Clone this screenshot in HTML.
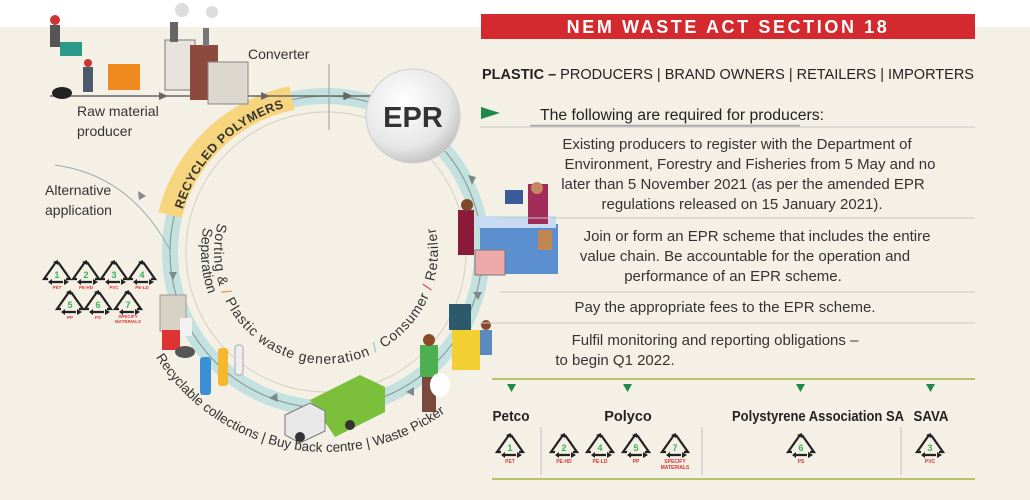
<!DOCTYPE html>
<html><head><meta charset="utf-8"><style>
html,body{margin:0;padding:0;width:1030px;height:500px;overflow:hidden;background:#fff}
svg{display:block;font-family:"Liberation Sans",sans-serif}
</style></head><body>
<svg width="1030" height="500" viewBox="0 0 1030 500" xmlns="http://www.w3.org/2000/svg">
<defs>
<radialGradient id="eg" cx="40%" cy="35%" r="70%"><stop offset="0" stop-color="#ffffff"/><stop offset="0.7" stop-color="#e6e6e6"/><stop offset="1" stop-color="#bdbdbd"/></radialGradient>
<g id="rc"><path d="M-9,6 L-13,6 L-1,-11 M1,-11 L13,6 L9,6 M6,9 L-7,9" fill="none" stroke="#222" stroke-width="2.2"/><path d="M-4,-11 L1,-13 L1,-8z M12,9 L7,6 L7,12z M-9,9 L-5,6 L-5,12z" fill="#222"/></g>
<path id="pin" d="M217.8,223 A112,112 0 1 0 431.3,213.7"/>
<path id="pin2" d="M205.3,219.6 A125,125 0 0 0 326,377"/>
<path id="pout" d="M152.8,352 A200,200 0 0 0 513.9,320.4"/>
<path id="pyel" d="M180,220 A150,150 0 0 1 295,105"/>
</defs>
<rect x="0" y="27" width="1030" height="473" fill="#f4f0e5"/>
<circle cx="326" cy="252" r="156" fill="none" stroke="#c3e2df" stroke-width="16"/>
<circle cx="326" cy="252" r="140" fill="none" stroke="#d8d4c8" stroke-width="1.2"/>
<circle cx="326" cy="252" r="156" fill="none" stroke="#8e9c9b" stroke-width="1.2"/>
<path d="M170,215 A158,158 0 0 1 292,98" fill="none" stroke="#f7d57e" stroke-width="24"/>
<text font-size="12.5" font-weight="bold" fill="#333" letter-spacing="0.5"><textPath href="#pyel" startOffset="50%" text-anchor="middle">RECYCLED POLYMERS</textPath></text>
<g fill="#7d8a8a">
<path d="M472,185 l-4,-10 l8,2z"/><path d="M478,300 l-5,-8 l9,0z"/><path d="M406,392 l8,-5 l0,9z"/><path d="M269,398 l8,-5 l1,9z"/><path d="M173,272 l-4,8 l8,0z" transform="rotate(180 173 276)"/><path d="M352,96 l-9,-4 l0,8z"/>
</g>
<line x1="50" y1="96" x2="372" y2="96" stroke="#666" stroke-width="1.5"/>
<path d="M168,96 l-9,-4 v8z M270,96 l-9,-4 v8z M353,96 l-9,-4 v8z" fill="#666"/>
<line x1="329" y1="64" x2="329" y2="130" stroke="#999" stroke-width="1"/>
<circle cx="413" cy="116" r="47" fill="url(#eg)" stroke="#cfcfcf"/>
<text x="413" y="127" font-size="29" font-weight="bold" text-anchor="middle" fill="#333">EPR</text>
<g>
<rect x="165" y="40" width="30" height="50" fill="#e8e4dd" stroke="#777"/>
<rect x="190" y="45" width="28" height="55" fill="#8b4a3c"/>
<rect x="208" y="62" width="40" height="42" fill="#ddd8cf" stroke="#888"/>
<rect x="170" y="22" width="8" height="20" fill="#666"/><rect x="203" y="28" width="6" height="18" fill="#777"/>
<circle cx="182" cy="10" r="7" fill="#ddd"/><circle cx="212" cy="12" r="6" fill="#ddd"/>
<rect x="108" y="64" width="32" height="26" fill="#f08a1e"/><rect x="60" y="42" width="22" height="14" fill="#2c9a8a"/>
<circle cx="55" cy="20" r="5" fill="#c33"/><rect x="50" y="25" width="10" height="22" fill="#555"/>
<circle cx="88" cy="63" r="4" fill="#c33"/><rect x="83" y="67" width="10" height="25" fill="#4a5a6a"/>
<ellipse cx="62" cy="93" rx="10" ry="6" fill="#222"/>
</g>
<g>
<rect x="480" y="224" width="78" height="50" fill="#5c8fd0"/><rect x="476" y="216" width="80" height="12" fill="#c9dbf2"/>
<rect x="505" y="190" width="18" height="14" fill="#3a5a9a"/>
<rect x="528" y="184" width="20" height="40" fill="#a22c5a"/><circle cx="537" cy="188" r="6" fill="#c4865f"/>
<rect x="458" y="210" width="16" height="45" fill="#8a1b3a"/><circle cx="467" cy="205" r="6" fill="#7a4a2a"/>
<rect x="475" y="250" width="30" height="25" fill="#eaa" stroke="#777"/><rect x="538" y="230" width="14" height="20" fill="#c08850"/>
<rect x="452" y="330" width="28" height="40" fill="#f2cf32"/><rect x="449" y="304" width="22" height="26" fill="#2d5a6a"/>
<rect x="480" y="330" width="12" height="25" fill="#5a8ac0"/><circle cx="486" cy="325" r="5" fill="#8a4a2a"/>
<rect x="420" y="345" width="18" height="32" fill="#4caf50"/><rect x="422" y="377" width="14" height="35" fill="#7a4a3a"/><circle cx="429" cy="340" r="6" fill="#8a4a2a"/>
<ellipse cx="440" cy="385" rx="10" ry="12" fill="#fff"/>
<path d="M310,400 l50,-25 l25,12 l0,25 l-50,25z" fill="#7bbf3a"/><path d="M285,415 l25,-12 l15,8 l0,20 l-25,12 l-15,-8z" fill="#e8e8e8" stroke="#777"/>
<circle cx="300" cy="437" r="5" fill="#333"/><circle cx="350" cy="425" r="5" fill="#333"/>
<rect x="160" y="295" width="26" height="36" fill="#d7d2c4" stroke="#999"/><rect x="162" y="330" width="18" height="20" fill="#d33"/><ellipse cx="185" cy="352" rx="10" ry="6" fill="#555"/>
<rect x="200" y="357" width="11" height="38" rx="3" fill="#3b8fd6"/><rect x="218" y="348" width="10" height="38" rx="3" fill="#f5b82d"/><rect x="235" y="345" width="8" height="30" rx="3" fill="#eee" stroke="#aaa"/>
<rect x="180" y="318" width="12" height="18" fill="#f2f2f2"/>
</g>
<g font-size="14" fill="#333">
<text x="248" y="59">Converter</text>
<text x="77" y="116">Raw material</text><text x="77" y="136">producer</text>
<text x="45" y="195">Alternative</text><text x="45" y="215">application</text>
</g>
<path d="M55,165 Q130,175 170,250" fill="none" stroke="#9aa" stroke-width="1"/><path d="M139,200 l-1,-9 l8,5z" fill="#888"/>
<text font-size="14" fill="#333"><textPath href="#pin" startOffset="0" textLength="405" lengthAdjust="spacing">Sorting &amp; <tspan fill="#e8912e">/</tspan> Plastic waste generation <tspan fill="#7cc">/</tspan> Consumer <tspan fill="#d33">/</tspan> Retailer</textPath></text>
<text font-size="14" fill="#333"><textPath href="#pin2" startOffset="8">Separation</textPath></text>
<text font-size="13.5" fill="#333"><textPath href="#pout" startOffset="6">Recyclable collections  |  Buy back centre  |  Waste Picker</textPath></text>
<g>
<use href="#rc" x="57" y="273"/><use href="#rc" x="86" y="273"/><use href="#rc" x="114" y="273"/><use href="#rc" x="142" y="273"/>
<use href="#rc" x="70" y="303"/><use href="#rc" x="98" y="303"/><use href="#rc" x="128" y="303"/>
</g>
<g font-size="9" font-weight="bold" fill="#3bb35a" text-anchor="middle">
<text x="57" y="278">1</text><text x="86" y="278">2</text><text x="114" y="278">3</text><text x="142" y="278">4</text>
<text x="70" y="308">5</text><text x="98" y="308">6</text><text x="128" y="308">7</text>
</g>
<g font-size="4.5" font-weight="bold" fill="#d33" text-anchor="middle">
<text x="57" y="289">PET</text><text x="86" y="289">PE-HD</text><text x="114" y="289">PVC</text><text x="142" y="289">PE-LD</text>
<text x="70" y="319">PP</text><text x="98" y="319">PS</text><text x="128" y="318">SPECIFY</text><text x="128" y="323">MATERIALS</text>
</g>
<rect x="481" y="14" width="494" height="25" fill="#d42a2f"/>
<text x="728" y="33" font-size="18" font-weight="bold" fill="#fff" text-anchor="middle" letter-spacing="2.6">NEM WASTE ACT SECTION 18</text>
<text x="482" y="79" font-size="14.5" fill="#222" textLength="492" lengthAdjust="spacingAndGlyphs"><tspan font-weight="bold">PLASTIC –</tspan> PRODUCERS  |  BRAND OWNERS  |  RETAILERS  |  IMPORTERS</text>
<path d="M481,107 l19,6 l-19,6z" fill="#1e8a4a"/>
<text x="540" y="120" font-size="15.5" fill="#222" textLength="284" lengthAdjust="spacingAndGlyphs">The following are required for producers:</text>
<line x1="530" y1="126" x2="800" y2="126" stroke="#aaa" stroke-width="2.5"/>
<line x1="480" y1="127" x2="975" y2="127" stroke="#c8c8c8" stroke-width="1"/>
<g font-size="15" fill="#333" text-anchor="middle">
<text x="737" y="149">Existing producers to register with the Department of</text>
<text x="750" y="169">Environment, Forestry and Fisheries from 5 May and no</text>
<text x="743" y="189">later than 5 November 2021 (as per the amended EPR</text>
<text x="742" y="209">regulations released on 15 January 2021).</text>
<text x="757" y="241">Join or form an EPR scheme that includes the entire</text>
<text x="745" y="261">value chain. Be accountable for the operation and</text>
<text x="733" y="281">performance of an EPR scheme.</text>
<text x="725" y="312">Pay the appropriate fees to the EPR scheme.</text>
<text x="715" y="345">Fulfil monitoring and reporting obligations –</text>
<text x="615" y="365">to begin Q1 2022.</text>
</g>
<g stroke="#c8c8c8" stroke-width="1"><line x1="500" y1="218" x2="975" y2="218"/><line x1="500" y1="292" x2="975" y2="292"/><line x1="480" y1="323" x2="975" y2="323"/></g>
<line x1="492" y1="379" x2="975" y2="379" stroke="#b5c46a" stroke-width="2"/>
<line x1="492" y1="479" x2="975" y2="479" stroke="#b5c46a" stroke-width="2"/>
<g fill="#1e8a4a"><path d="M507,384 h9 l-4.5,8z"/><path d="M623,384 h9 l-4.5,8z"/><path d="M796,384 h9 l-4.5,8z"/><path d="M926,384 h9 l-4.5,8z"/></g>
<g font-size="14.5" font-weight="bold" fill="#222" text-anchor="middle">
<text x="511" y="421" textLength="37" lengthAdjust="spacingAndGlyphs">Petco</text><text x="628" y="421">Polyco</text><text x="818" y="421" textLength="172" lengthAdjust="spacingAndGlyphs">Polystyrene Association SA</text><text x="931" y="421" textLength="35" lengthAdjust="spacingAndGlyphs">SAVA</text>
</g>
<g stroke="#ccc" stroke-width="1.2"><line x1="541" y1="427" x2="541" y2="475"/><line x1="702" y1="427" x2="702" y2="475"/><line x1="901" y1="427" x2="901" y2="475"/></g>
<g><use href="#rc" x="510" y="446"/><use href="#rc" x="564" y="446"/><use href="#rc" x="600" y="446"/><use href="#rc" x="636" y="446"/><use href="#rc" x="675" y="446"/><use href="#rc" x="801" y="446"/><use href="#rc" x="930" y="446"/></g>
<g font-size="9" font-weight="bold" fill="#3bb35a" text-anchor="middle">
<text x="510" y="451">1</text><text x="564" y="451">2</text><text x="600" y="451">4</text><text x="636" y="451">5</text><text x="675" y="451">7</text><text x="801" y="451">6</text><text x="930" y="451">3</text>
</g>
<g font-size="5" font-weight="bold" fill="#d33" text-anchor="middle">
<text x="510" y="463">PET</text><text x="564" y="463">PE-HD</text><text x="600" y="463">PE-LD</text><text x="636" y="463">PP</text><text x="675" y="463">SPECIFY</text><text x="675" y="469">MATERIALS</text><text x="801" y="463">PS</text><text x="930" y="463">PVC</text>
</g>
</svg>
</body></html>
